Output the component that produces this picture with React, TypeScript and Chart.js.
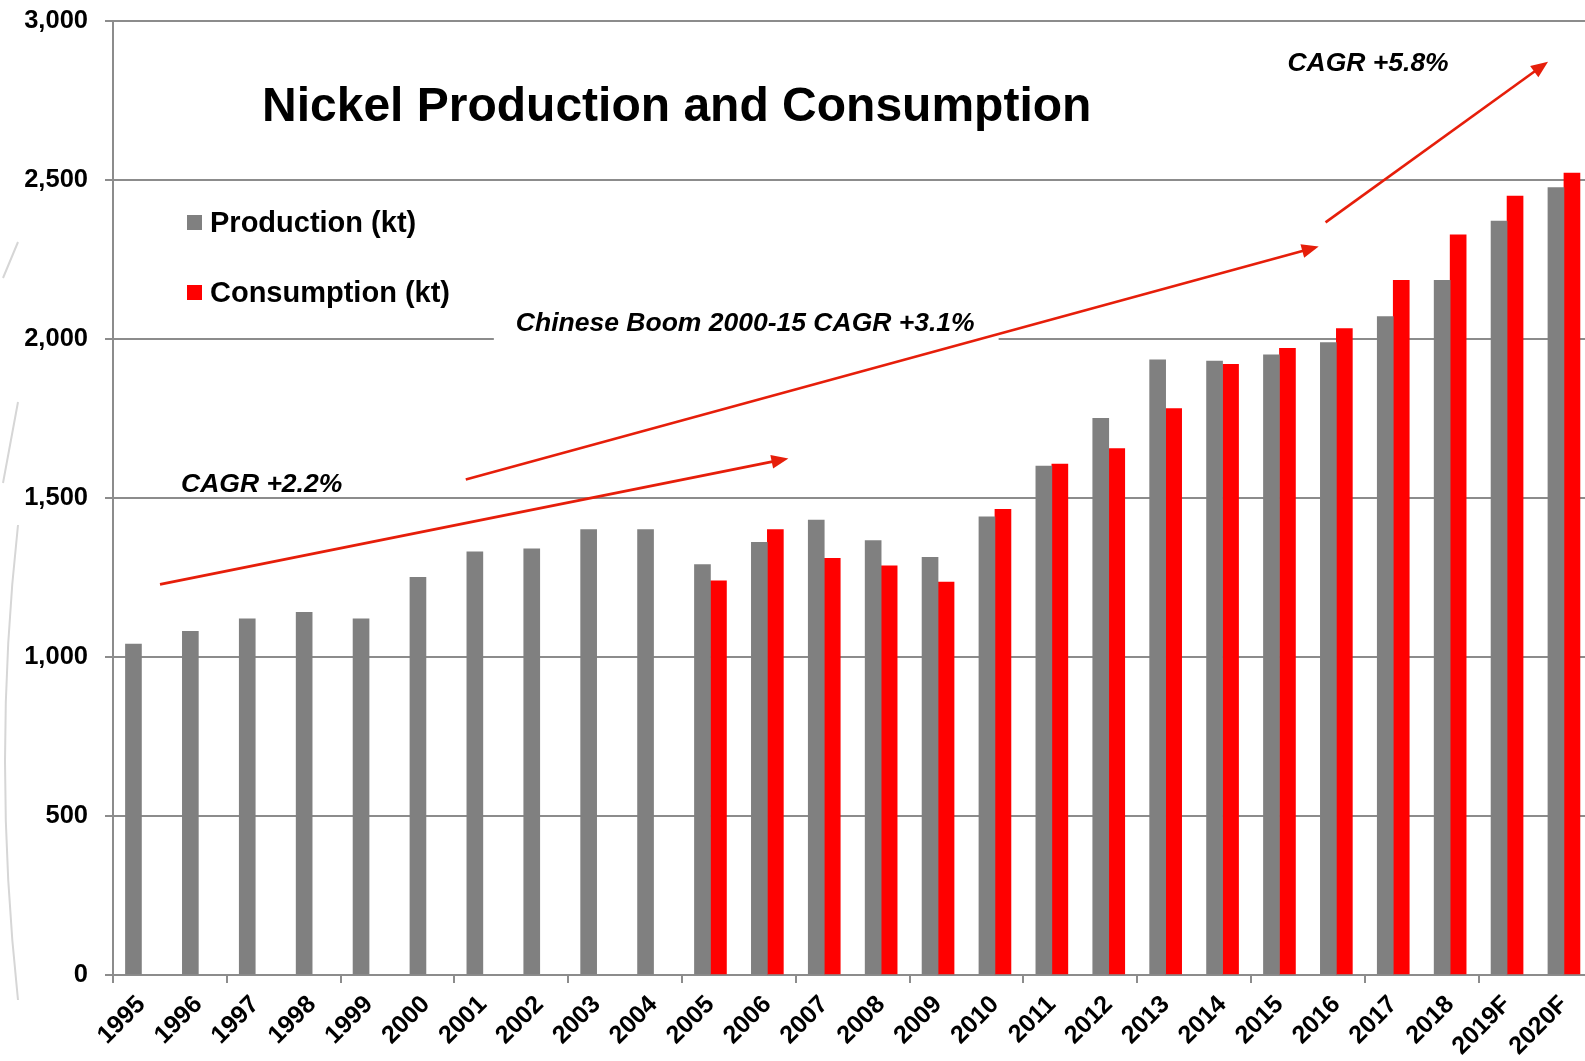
import { useEffect, useRef } from 'react';
import { Chart, registerables } from 'chart.js';

Chart.register(...registerables);

const categories = ['1995', '1996', '1997', '1998', '1999', '2000', '2001', '2002', '2003', '2004', '2005', '2006', '2007', '2008', '2009', '2010', '2011', '2012', '2013', '2014', '2015', '2016', '2017', '2018', '2019F', '2020F'];
const production = [1040, 1080, 1120, 1140, 1120, 1250, 1330, 1340, 1400, 1400, 1290, 1360, 1430, 1366, 1313, 1440, 1600, 1750, 1934, 1930, 1950, 1988, 2070, 2184, 2370, 2475];
const consumption = [null, null, null, null, null, null, null, null, null, null, 1239, 1400, 1310, 1286, 1235, 1464, 1606, 1655, 1781, 1920, 1970, 2032, 2184, 2327, 2449, 2521];
const yTickValues = [0, 500, 1000, 1500, 2000, 2500, 3000];
const seriesLabels = ['Production (kt)', 'Consumption (kt)'];
const seriesColors = ['#808080', '#ff0000'];
const chartTitle = 'Nickel Production and Consumption';
const annotationTexts = ['CAGR +2.2%', 'Chinese Boom 2000-15 CAGR +3.1%', 'CAGR +5.8%'];
// anchors in data space: [category index, value]
const annotationAnchors = [[0.695, 1540], [6.58, 2048], [20.14, 2866]];
const arrowStarts = [[0.326, 1228], [5.7, 1558], [20.81, 2366]];
const arrowEnds = [[11.37, 1624], [20.69, 2290], [24.72, 2871]];

const GRID = '#8c8c8c';
const ARROW = '#e61e0a';

const overlayPlugin = {
  id: 'overlay',
  beforeDraw(chart: any) {
    const ctx = chart.ctx;
    ctx.save();
    ctx.fillStyle = '#ffffff';
    ctx.fillRect(0, 0, chart.width, chart.height);
    // faint decorative arcs at left edge
    ctx.strokeStyle = '#d6d6d6';
    ctx.lineWidth = 2;
    ctx.beginPath();
    ctx.moveTo(18, 242); ctx.lineTo(3, 278);
    ctx.moveTo(18, 402); ctx.lineTo(3, 483);
    ctx.moveTo(18, 525); ctx.quadraticCurveTo(-8, 760, 18, 1000);
    ctx.stroke();
    ctx.restore();
  },
  beforeDatasetsDraw(chart: any) {
    const ctx = chart.ctx;
    const x = chart.scales.x;
    const y = chart.scales.y;
    // white box behind the Chinese Boom label
    const [ci, cv] = annotationAnchors[1];
    const px = x.getPixelForValue(ci);
    const py = y.getPixelForValue(cv);
    ctx.save();
    ctx.font = 'italic bold 26.5px "Liberation Sans", Arial, sans-serif';
    const w = ctx.measureText(annotationTexts[1]).width;
    ctx.fillStyle = '#ffffff';
    ctx.fillRect(px - 22, py - 20, w + 46, 42);
    ctx.restore();
  },
  afterDatasetsDraw(chart: any) {
    const ctx = chart.ctx;
    const x = chart.scales.x;
    const y = chart.scales.y;
    ctx.save();
    // arrows
    for (let i = 0; i < arrowStarts.length; i++) {
      const x1 = x.getPixelForValue(arrowStarts[i][0]);
      const y1 = y.getPixelForValue(arrowStarts[i][1]);
      const x2 = x.getPixelForValue(arrowEnds[i][0]);
      const y2 = y.getPixelForValue(arrowEnds[i][1]);
      const ang = Math.atan2(y2 - y1, x2 - x1);
      const headLen = 17;
      const headHalf = 7;
      const bx = x2 - headLen * Math.cos(ang);
      const by = y2 - headLen * Math.sin(ang);
      ctx.strokeStyle = ARROW;
      ctx.lineWidth = 2.6;
      ctx.beginPath();
      ctx.moveTo(x1, y1);
      ctx.lineTo(bx + 2 * Math.cos(ang), by + 2 * Math.sin(ang));
      ctx.stroke();
      ctx.fillStyle = ARROW;
      ctx.beginPath();
      ctx.moveTo(x2, y2);
      ctx.lineTo(bx - headHalf * Math.sin(ang), by + headHalf * Math.cos(ang));
      ctx.lineTo(bx + headHalf * Math.sin(ang), by - headHalf * Math.cos(ang));
      ctx.closePath();
      ctx.fill();
    }
    // annotation texts
    ctx.fillStyle = '#000000';
    ctx.font = 'italic bold 26.5px "Liberation Sans", Arial, sans-serif';
    ctx.textAlign = 'left';
    ctx.textBaseline = 'middle';
    for (let i = 0; i < annotationTexts.length; i++) {
      const px = x.getPixelForValue(annotationAnchors[i][0]);
      const py = y.getPixelForValue(annotationAnchors[i][1]);
      ctx.fillText(annotationTexts[i], px, py);
    }
    // title
    ctx.font = 'bold 48px "Liberation Sans", Arial, sans-serif';
    ctx.textBaseline = 'alphabetic';
    ctx.fillText(chartTitle, 262, 121);
    // legend
    ctx.font = 'bold 29px "Liberation Sans", Arial, sans-serif';
    chart.data.datasets.forEach((ds: any, i: number) => {
      const top = 215 + i * 70;
      ctx.fillStyle = ds.backgroundColor;
      ctx.fillRect(187, top, 15, 15);
      ctx.fillStyle = '#000000';
      ctx.fillText(ds.label, 210, top + 17);
    });
    ctx.restore();
  },
};

export default function App() {
  const canvasRef = useRef<HTMLCanvasElement | null>(null);

  useEffect(() => {
    const canvas = canvasRef.current;
    if (!canvas) return;
    const chart = new Chart(canvas, {
      type: 'bar',
      data: {
        labels: categories,
        datasets: [
          { label: seriesLabels[0], data: production, backgroundColor: seriesColors[0], barThickness: 16, borderWidth: 0 },
          { label: seriesLabels[1], data: consumption as any, backgroundColor: seriesColors[1], barThickness: 16, borderWidth: 0 },
        ],
      },
      options: {
        animation: false,
        responsive: false,
        devicePixelRatio: 1,
        layout: { padding: { top: 20.7, right: 7.6, left: 0, bottom: 0 } },
        plugins: {
          legend: { display: false },
          title: { display: false },
          tooltip: { enabled: false },
        },
        scales: {
          x: {
            offset: true,
            grid: {
              offset: true,
              drawOnChartArea: false,
              drawTicks: true,
              tickLength: 8,
              lineWidth: 2,
              color: (c: any) => (c.index !== undefined && c.index % 2 === 0 ? GRID : 'rgba(0,0,0,0)'),
            },
            border: { display: true, color: GRID, width: 2 },
            ticks: {
              autoSkip: false,
              maxRotation: 45,
              minRotation: 45,
              color: '#000',
              padding: 7,
              font: { family: '"Liberation Sans", Arial, sans-serif', weight: 'bold', size: 25 },
            },
            afterFit: (s: any) => { s.height = 86; },
          },
          y: {
            min: 0,
            max: 3000,
            afterBuildTicks: (s: any) => { s.ticks = yTickValues.map((v) => ({ value: v })); },
            ticks: {
              color: '#000',
              padding: 17,
              font: { family: '"Liberation Sans", Arial, sans-serif', weight: 'bold', size: 25.5 },
              callback: (v: any) => Number(v).toLocaleString('en-US'),
            },
            grid: { color: GRID, lineWidth: 2, tickLength: 8, drawTicks: true },
            border: { display: true, color: GRID, width: 2 },
            afterFit: (s: any) => {
              s.width = 113;
              s.paddingTop = 10;
              s.paddingBottom = 10;
            },
          },
        },
      },
      plugins: [overlayPlugin],
    });
    return () => chart.destroy();
  }, []);

  return (
    <div style={{ position: 'fixed', left: 0, top: 0, width: 1585, height: 1061, overflow: 'hidden', background: '#fff' }}>
      <canvas ref={canvasRef} width={1600} height={1061} style={{ display: 'block', width: 1600, height: 1061 }} />
    </div>
  );
}
